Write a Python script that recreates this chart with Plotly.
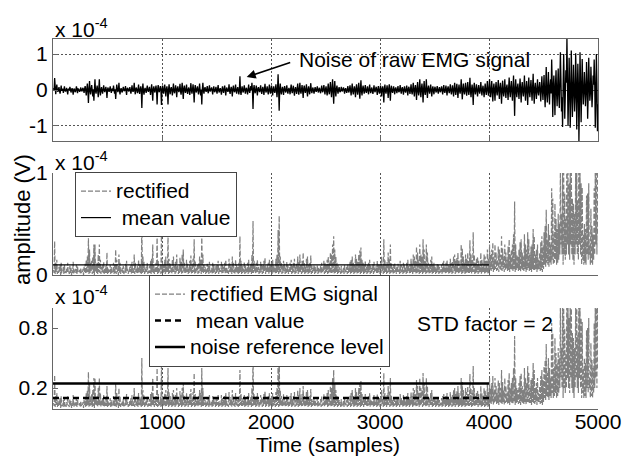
import numpy as np
import plotly.graph_objects as go

# ---- data (amplitudes in units of 1e-4 V, one value every 5 samples) ----
sample_step = 5
raw_emg = [
    0.05, -0.02, 0.33, 0.01, -0.12, 0.03, 0.15, -0.01, -0.05, 0.02, 0.08, -0.03, -0.10, 0.00, 0.12, -0.02, 0.02, 0.03, -0.08, 0.01,
    0.10, -0.02, -0.04, 0.01, 0.06, -0.03, -0.12, 0.02, 0.03, -0.01, 0.09, 0.02, -0.07, 0.00, 0.05, -0.02, -0.13, 0.01, 0.04, -0.03,
    -0.06, 0.02, 0.10, -0.01, -0.09, 0.03, 0.02, -0.02, -0.05, 0.01, 0.07, -0.02, -0.03, 0.02, 0.06, 0.00, -0.08, 0.03, 0.11, -0.01,
    -0.15, 0.02, 0.18, -0.03, -0.36, 0.01, 0.25, -0.02, -0.12, 0.03, 0.14, -0.01, -0.18, 0.02, -0.30, 0.00, 0.30, -0.03, -0.10, 0.02,
    0.12, -0.01, -0.20, 0.03, 0.30, -0.02, -0.15, 0.01, 0.08, -0.03, -0.10, 0.02, 0.13, -0.01, -0.06, 0.02, 0.09, -0.02, -0.22, 0.01,
    0.07, -0.02, -0.05, 0.03, 0.10, -0.01, -0.08, 0.02, 0.04, -0.03, 0.12, 0.01, -0.10, 0.02, -0.25, -0.01, 0.15, 0.03, -0.06, 0.00,
    0.20, -0.02, -0.12, 0.01, 0.05, -0.03, -0.07, 0.02, 0.09, -0.01, -0.03, 0.02, 0.11, -0.02, -0.14, 0.03, 0.06, -0.01, -0.04, 0.02,
    0.08, -0.03, -0.10, 0.01, 0.13, -0.02, -0.05, 0.02, 0.20, -0.01, -0.12, 0.03, 0.07, -0.02, -0.09, 0.01, 0.15, -0.03, -0.11, 0.02,
    0.10, -0.01, -0.50, 0.02, 0.18, -0.03, -0.13, 0.01, 0.06, -0.02, -0.08, 0.03, 0.12, -0.01, -0.05, 0.02, 0.09, -0.02, -0.14, 0.01,
    0.16, -0.03, -0.30, 0.02, 0.10, -0.01, -0.07, 0.03, 0.12, -0.02, -0.40, 0.01, 0.14, -0.02, -0.06, 0.03, 0.11, -0.01, -0.42, 0.02,
    0.12, -0.02, -0.10, 0.03, 0.15, -0.01, -0.18, 0.02, 0.10, -0.03, -0.40, 0.01, 0.16, -0.02, -0.12, 0.03, 0.08, -0.01, -0.15, 0.02,
    0.18, -0.03, -0.09, 0.01, 0.13, -0.02, -0.20, 0.03, 0.10, -0.01, -0.06, 0.02, 0.17, -0.03, -0.13, 0.01, 0.20, -0.02, -0.25, 0.03,
    0.12, -0.01, -0.08, 0.02, 0.15, -0.03, -0.11, 0.01, 0.07, -0.02, -0.14, 0.03, 0.19, -0.01, -0.10, 0.02, 0.16, -0.03, -0.35, 0.01,
    0.14, -0.02, -0.07, 0.03, 0.10, -0.01, -0.12, 0.02, 0.18, -0.03, -0.15, 0.01, -0.40, 0.02, 0.20, -0.02, -0.10, 0.03, 0.08, -0.01,
    -0.05, 0.02, 0.11, -0.03, -0.09, 0.01, 0.13, -0.02, -0.04, 0.03, 0.07, -0.01, -0.12, 0.02, 0.10, -0.03, -0.06, 0.01, 0.09, -0.02,
    -0.10, 0.03, 0.14, -0.01, -0.07, 0.02, 0.05, -0.03, -0.13, 0.01, 0.10, -0.02, -0.08, 0.03, 0.12, -0.01, -0.15, 0.02, 0.07, -0.02,
    -0.05, 0.01, 0.16, -0.03, -0.11, 0.02, 0.09, -0.01, -0.18, 0.03, 0.12, -0.02, -0.06, 0.01, 0.15, -0.03, -0.10, 0.02, 0.08, -0.01,
    -0.12, 0.02, 0.38, -0.03, -0.14, 0.01, 0.10, -0.02, -0.07, 0.03, 0.13, -0.01, -0.10, 0.02, 0.06, -0.03, -0.12, 0.01, 0.15, -0.02,
    -0.08, 0.03, 0.11, -0.01, 0.20, -0.02, -0.53, 0.02, 0.14, -0.03, -0.09, 0.01, 0.12, -0.02, -0.15, 0.03, 0.08, -0.01, -0.06, 0.02,
    0.13, -0.03, -0.11, 0.01, 0.09, -0.02, -0.14, 0.03, 0.17, -0.01, -0.07, 0.02, 0.10, -0.03, -0.12, 0.01, 0.15, -0.02, -0.10, 0.03,
    0.12, -0.01, -0.15, 0.02, 0.10, -0.03, -0.08, 0.01, 0.16, -0.02, -0.20, 0.03, 0.44, -0.01, -0.58, 0.02, 0.18, -0.03, -0.12, 0.01,
    0.09, -0.02, -0.14, 0.03, 0.11, -0.01, -0.07, 0.02, 0.13, -0.03, -0.10, 0.01, 0.06, -0.02, -0.12, 0.03, 0.15, -0.01, -0.09, 0.02,
    0.12, -0.03, -0.16, 0.01, 0.08, -0.02, -0.11, 0.03, 0.18, -0.01, -0.13, 0.02, 0.20, -0.03, -0.10, 0.01, 0.14, -0.02, -0.22, 0.03,
    0.12, -0.01, -0.08, 0.02, 0.16, -0.03, -0.18, 0.01, 0.10, -0.02, -0.12, 0.03, 0.19, -0.01, -0.09, 0.02, 0.07, -0.03, -0.10, 0.01,
    0.08, -0.02, -0.05, 0.03, 0.10, -0.01, -0.07, 0.02, 0.06, -0.03, -0.09, 0.01, 0.12, -0.02, -0.06, 0.03, 0.14, -0.01, -0.12, 0.02,
    0.10, -0.03, -0.15, 0.01, 0.18, -0.02, -0.12, 0.03, 0.22, -0.01, -0.20, 0.02, 0.30, -0.03, -0.38, 0.01, 0.25, -0.02, -0.18, 0.03,
    0.12, -0.01, -0.10, 0.02, 0.08, -0.03, -0.06, 0.01, 0.09, -0.02, -0.04, 0.03, 0.07, -0.01, -0.10, 0.02, 0.05, -0.03, -0.08, 0.01,
    0.11, -0.02, -0.07, 0.03, 0.13, -0.01, -0.15, 0.02, 0.18, -0.03, -0.12, 0.01, 0.10, -0.02, -0.20, 0.03, 0.16, -0.01, -0.13, 0.02,
    0.20, -0.03, -0.24, 0.01, 0.27, -0.02, -0.15, 0.03, 0.12, -0.01, -0.10, 0.02, 0.14, -0.03, -0.08, 0.01, 0.10, -0.02, -0.12, 0.03,
    0.15, -0.01, -0.09, 0.02, 0.07, -0.03, -0.11, 0.01, 0.13, -0.02, -0.06, 0.03, 0.09, -0.01, -0.14, 0.02, 0.11, -0.03, -0.10, 0.01,
    0.12, -0.02, -0.18, 0.03, 0.10, -0.01, -0.35, 0.02, 0.15, -0.03, -0.10, 0.01, 0.13, -0.02, -0.22, 0.03, 0.16, -0.01, -0.30, 0.02,
    0.12, -0.03, -0.08, 0.01, 0.10, -0.02, -0.12, 0.03, 0.07, -0.01, -0.09, 0.02, 0.11, -0.03, -0.06, 0.01, 0.14, -0.02, -0.10, 0.03,
    0.08, -0.01, -0.13, 0.02, 0.10, -0.03, -0.07, 0.01, 0.12, -0.02, -0.15, 0.03, 0.09, -0.01, -0.11, 0.02, 0.16, -0.03, -0.12, 0.01,
    0.20, -0.02, -0.18, 0.03, 0.14, -0.01, -0.28, 0.02, 0.22, -0.03, -0.15, 0.01, 0.30, -0.02, -0.20, 0.03, 0.18, -0.01, -0.35, 0.02,
    0.25, -0.03, -0.14, 0.01, 0.30, -0.02, -0.22, 0.03, 0.12, -0.01, -0.10, 0.02, 0.15, -0.03, -0.18, 0.01, 0.10, -0.02, -0.12, 0.03,
    0.09, -0.01, -0.07, 0.02, 0.11, -0.03, -0.10, 0.01, 0.08, -0.02, -0.06, 0.03, 0.10, -0.01, -0.12, 0.02, 0.14, -0.03, -0.08, 0.01,
    0.12, -0.02, -0.15, 0.03, 0.10, -0.01, -0.09, 0.02, 0.16, -0.03, -0.12, 0.01, 0.13, -0.02, -0.18, 0.03, 0.20, -0.01, -0.14, 0.02,
    0.17, -0.03, -0.22, 0.01, 0.15, -0.02, -0.10, 0.03, 0.30, -0.01, -0.26, 0.02, 0.18, -0.03, -0.12, 0.01, 0.20, -0.02, -0.16, 0.03,
    0.22, -0.01, -0.14, 0.02, 0.34, -0.03, -0.20, 0.01, 0.15, -0.02, -0.42, 0.03, 0.20, -0.01, -0.12, 0.02, 0.16, -0.03, -0.18, 0.01,
    0.14, -0.02, -0.10, 0.03, 0.22, -0.01, -0.15, 0.02, 0.12, -0.03, -0.20, 0.01, 0.18, -0.02, -0.14, 0.03, 0.25, -0.01, -0.16, 0.02,
    0.30, -0.05, -0.20, 0.04, 0.25, -0.06, -0.32, 0.03, 0.18, -0.05, -0.30, 0.06, 0.22, -0.04, -0.15, 0.05, 0.28, -0.03, -0.25, 0.06,
    0.20, -0.05, -0.38, 0.04, 0.26, -0.06, -0.18, 0.03, 0.30, -0.05, -0.22, 0.06, 0.15, -0.04, -0.28, 0.05, 0.35, -0.03, -0.20, 0.06,
    0.25, -0.05, -0.30, 0.04, 0.40, -0.06, -0.72, 0.03, 0.30, -0.05, -0.20, 0.06, 0.18, -0.04, -0.25, 0.05, 0.32, -0.03, -0.35, 0.06,
    0.22, -0.05, -0.18, 0.04, 0.40, -0.06, -0.30, 0.03, 0.25, -0.05, -0.42, 0.06, 0.35, -0.04, -0.20, 0.05, 0.28, -0.03, -0.30, 0.06,
    0.45, -0.05, -0.38, 0.04, 0.20, -0.06, -0.25, 0.03, 0.30, -0.05, -0.15, 0.06, 0.22, -0.04, -0.32, 0.05, 0.38, -0.03, -0.28, 0.06,
    0.42, -0.10, -0.48, 0.08, 0.64, -0.12, -0.35, 0.10, 0.50, -0.08, -0.40, 0.12, 0.30, -0.10, 0.85, 0.15, -0.75, 0.10, 0.40, -0.12,
    -0.70, 0.15, 0.55, -0.10, -0.45, 0.12, 0.60, -0.15, -0.50, 0.20, 1.05, 0.30, -0.60, -0.20, -1.03, 0.10, 1.00, 0.20, -0.80, -0.15,
    0.55, 0.20, 1.45, 0.30, -1.00, -0.20, 0.90, 0.15, -1.05, -0.30, 1.10, 0.20, -0.75, -0.15, 0.70, 0.10, -0.60, -0.20, 1.02, 0.30,
    -1.10, -0.20, 0.73, 0.15, -1.45, -0.30, 1.05, 0.20, -0.90, -0.10, 0.86, 0.15, -0.40, -0.10, 0.50, 0.12, -0.45, -0.10, 0.78, 0.20,
    -0.80, -0.15, 0.90, 0.20, -0.30, -0.10, 0.65, 0.12, -0.48, -0.10, 0.40, 0.15, 0.85, 0.20, -1.05, -0.30, 1.00, 0.20, -1.15, -0.40,
]
samples = np.arange(1, len(raw_emg) + 1) * sample_step
rectified = np.abs(np.array(raw_emg))          # rectified EMG = |raw|

mean_x = [0, 4000]
mean_level = 0.10          # mean of rectified noise (x 1e-4)
noise_ref_level = 0.245    # mean + STD factor * std (x 1e-4)
x_ticks = [1000, 2000, 3000, 4000, 5000]
x_tick_labels = ["1000", "2000", "3000", "4000", "5000"]

FONT = "Liberation Sans, Arial, sans-serif"
AX = "#666666"
GRID = "#555555"
GRID_DASH = "2px,2px"

def lg(s):
    return '<span style="font-size:21px">' + s + '</span>'

fig = go.Figure()
# top: raw EMG noise
fig.add_trace(go.Scatter(x=samples, y=raw_emg, mode="lines",
                         line=dict(color="black", width=1.3),
                         xaxis="x", yaxis="y", showlegend=False))
# middle: rectified + mean
fig.add_trace(go.Scatter(x=samples, y=rectified, mode="lines", name=lg("rectified"),
                         line=dict(color="#808080", width=1.2, dash="5px,2px"),
                         xaxis="x2", yaxis="y2", legend="legend"))
fig.add_trace(go.Scatter(x=mean_x, y=[mean_level, mean_level], mode="lines",
                         name=lg("\u00a0mean value"), line=dict(color="black", width=1.2),
                         xaxis="x2", yaxis="y2", legend="legend"))
# bottom: rectified + mean + noise reference level
fig.add_trace(go.Scatter(x=samples, y=rectified, mode="lines", name=lg("rectified EMG signal"),
                         line=dict(color="#808080", width=1.2, dash="5px,2px"),
                         xaxis="x3", yaxis="y3", legend="legend2"))
fig.add_trace(go.Scatter(x=mean_x, y=[mean_level, mean_level], mode="lines",
                         name=lg("\u00a0mean value"), line=dict(color="black", width=2.5, dash="6px,4px"),
                         xaxis="x3", yaxis="y3", legend="legend2"))
fig.add_trace(go.Scatter(x=mean_x, y=[noise_ref_level, noise_ref_level], mode="lines",
                         name=lg("noise reference level"), line=dict(color="black", width=2.5),
                         xaxis="x3", yaxis="y3", legend="legend2"))

xdom = [53 / 623, 598 / 623]
def xax(anchor, labels, mirror):
    return dict(domain=xdom, anchor=anchor, range=[0, 5000], tickvals=x_ticks,
                ticktext=x_tick_labels, showticklabels=labels, ticks="inside", ticklen=5,
                tickcolor=AX, showline=True, linecolor=AX, linewidth=1, mirror=mirror,
                showgrid=True, gridcolor=GRID, griddash=GRID_DASH, gridwidth=1, zeroline=False,
                automargin=False, ticklabelstandoff=-6,
                tickfont=dict(size=21, color="black", family=FONT))

def yax(anchor, dom, rng, vals, grid, mirror):
    return dict(domain=[1 - dom[1] / 457, 1 - dom[0] / 457], anchor=anchor, range=rng,
                tickvals=vals, ticktext=[("%g" % v) for v in vals], ticks="inside", ticklen=5,
                tickcolor=AX, showline=True, linecolor=AX, linewidth=1, mirror=mirror,
                showgrid=grid, gridcolor=GRID, griddash=GRID_DASH, gridwidth=1, zeroline=False,
                automargin=False, tickfont=dict(size=21, color="black", family=FONT))

fig.update_layout(
    width=623, height=457, margin=dict(l=0, r=0, t=0, b=0, autoexpand=False),
    paper_bgcolor="white", plot_bgcolor="white",
    font=dict(family=FONT, size=21, color="black"),
    xaxis=xax("y", False, True),
    yaxis=yax("x", (39, 141), [-1.42, 1.42], [-1, 0, 1], True, True),
    xaxis2=xax("y2", False, False),
    yaxis2=yax("x2", (173, 275), [0, 1.0], [0, 1], True, False),
    xaxis3=xax("y3", True, False),
    yaxis3=yax("x3", (308, 409), [-0.01, 1.0], [0.2, 0.8], False, False),
    legend=dict(x=75 / 623, y=1 - 172 / 457, xanchor="left", yanchor="top",
                bgcolor="white", bordercolor="#444", borderwidth=1,
                font=dict(size=18, family=FONT), tracegroupgap=0, itemwidth=30),
    legend2=dict(x=149 / 623, y=1 - 275 / 457, xanchor="left", yanchor="top",
                 bgcolor="white", bordercolor="#444", borderwidth=1,
                 font=dict(size=18, family=FONT), tracegroupgap=0, itemwidth=30),
)

ann = []
for ytop in (43, 176, 310):
    ann.append(dict(text="x 10<sup>-4</sup>", xref="paper", yref="paper",
                    x=53 / 623, y=1 - ytop / 457, xanchor="left", yanchor="bottom",
                    showarrow=False, font=dict(size=21)))
ann.append(dict(text="", x=1777, y=0.36, xref="x", yref="y", ax=2190, ay=0.78,
                axref="x", ayref="y", showarrow=True, arrowhead=2, arrowsize=1.2,
                arrowwidth=1.5, arrowcolor="black"))
ann.append(dict(text="Noise of raw EMG signal", x=2239, y=0.86, xref="x", yref="y",
                xanchor="left", yanchor="middle", showarrow=False, font=dict(size=21)))
ann.append(dict(text="STD factor = 2", x=3321, y=0.85, xref="x3", yref="y3",
                xanchor="left", yanchor="middle", showarrow=False, font=dict(size=21)))
ann.append(dict(text="amplitude (V)", x=22 / 623, y=1 - 220 / 457, xref="paper", yref="paper",
                xanchor="center", yanchor="middle",
                textangle=-90, showarrow=False, font=dict(size=22)))
ann.append(dict(text="Time (samples)", x=328 / 623, y=1 - 444 / 457, xref="paper", yref="paper",
                xanchor="center", yanchor="middle", showarrow=False, font=dict(size=21)))
fig.update_layout(annotations=ann)

fig.write_html("out.html")
